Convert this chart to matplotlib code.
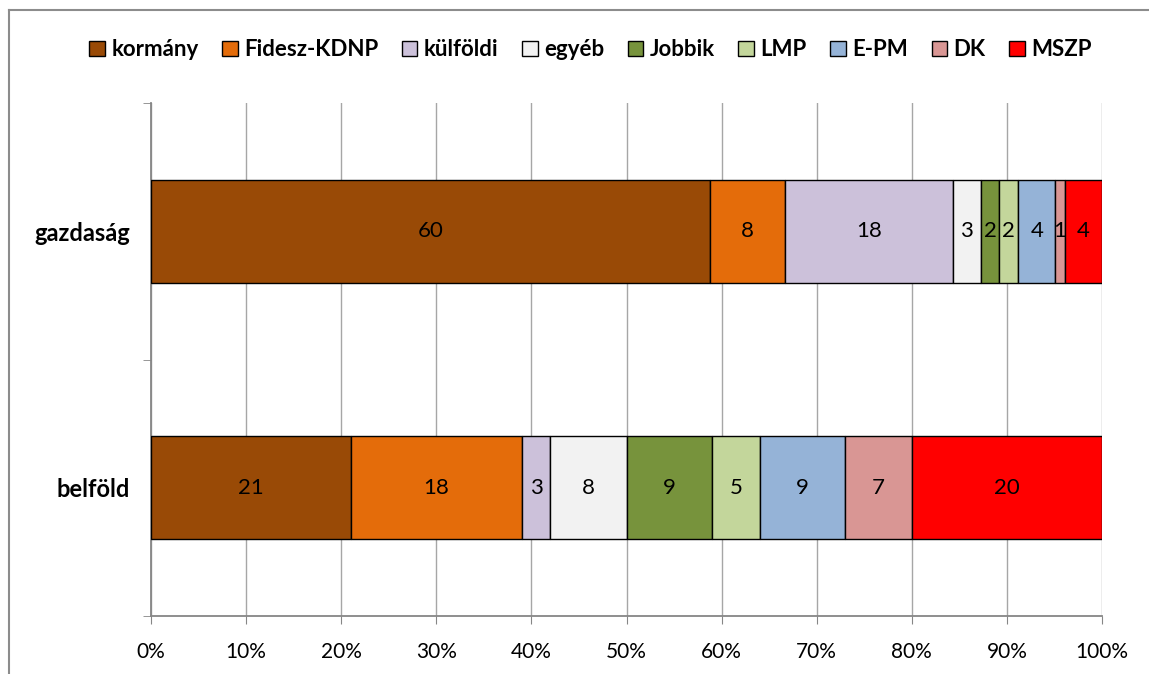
import matplotlib
matplotlib.use("Agg")
import matplotlib.pyplot as plt
import numpy as np
from matplotlib.lines import Line2D
from matplotlib.patches import Patch

plt.rcParams['font.family'] = ['Lato', 'DejaVu Sans']

categories = ["belföld", "gazdaság"]
series = ["kormány", "Fidesz-KDNP", "külföldi", "egyéb", "Jobbik", "LMP", "E-PM", "DK", "MSZP"]
values = {
    "kormány":     [21, 60],
    "Fidesz-KDNP": [18, 8],
    "külföldi":    [3, 18],
    "egyéb":       [8, 3],
    "Jobbik":      [9, 2],
    "LMP":         [5, 2],
    "E-PM":        [9, 4],
    "DK":          [7, 1],
    "MSZP":        [20, 4],
}
colors = ["#994A06", "#E46C0A", "#CCC1DA", "#F2F2F2", "#77933C", "#C3D69B", "#95B3D7", "#D99694", "#FF0000"]
xticks = [0, 10, 20, 30, 40, 50, 60, 70, 80, 90, 100]

fig = plt.figure(figsize=(11.49, 6.74), dpi=100)
ax = fig.add_axes([151/1149, 1-616/674, (1102-151)/1149, (616-103)/674])

raw = np.array([values[s] for s in series], dtype=float)
totals = raw.sum(axis=0)
pct = raw / totals * 100
ypos = np.arange(len(categories))
left = np.zeros(len(categories))
for i, s in enumerate(series):
    ax.barh(ypos, pct[i], left=left, height=0.4, color=colors[i],
            edgecolor="black", linewidth=1.0, zorder=3, label=s)
    for j in range(len(categories)):
        ax.text(left[j] + pct[i][j] / 2, ypos[j], f"{int(raw[i][j])}",
                ha="center", va="center", fontsize=16, color="black", zorder=4)
    left += pct[i]

ax.set_xlim(0, 100)
ax.set_ylim(-0.5, 1.5)
ax.set_xticks(xticks)
ax.set_xticklabels([f"{t}%" for t in xticks], fontsize=15)
ax.set_yticks(ypos)
ax.set_yticklabels(categories, fontsize=17, fontweight="bold")
ax.yaxis.set_tick_params(length=0, pad=15)
ax.set_yticks([-0.5, 0.5, 1.5], minor=True)
ax.tick_params(axis="y", which="minor", length=6, color="#868686", direction="out")
ax.tick_params(axis="x", length=6, color="#868686", direction="out", pad=13)
ax.grid(axis="x", color="#A6A6A6", linewidth=1.0, zorder=0)
for sp in ["top", "right"]:
    ax.spines[sp].set_visible(False)
for sp in ["left", "bottom"]:
    ax.spines[sp].set_color("#868686")
    ax.spines[sp].set_linewidth(1.3)

handles = [Patch(facecolor=c, edgecolor="black", linewidth=1.0) for c in colors]
fig.legend(handles, series, loc="center", bbox_to_anchor=(0.514, 0.926), ncol=9,
           frameon=False, prop={"size": 16, "weight": "bold"},
           handlelength=0.7, handleheight=0.7, handletextpad=0.3, columnspacing=1.05)

# chart frame (partially cropped)
fig.add_artist(Line2D([9/1149, 9/1149], [0, 1-10/674], transform=fig.transFigure, color="#8C8C8C", linewidth=1.5))
fig.add_artist(Line2D([9/1149, 1], [1-10/674, 1-10/674], transform=fig.transFigure, color="#8C8C8C", linewidth=1.5))

fig.savefig("out.png", dpi=100)
